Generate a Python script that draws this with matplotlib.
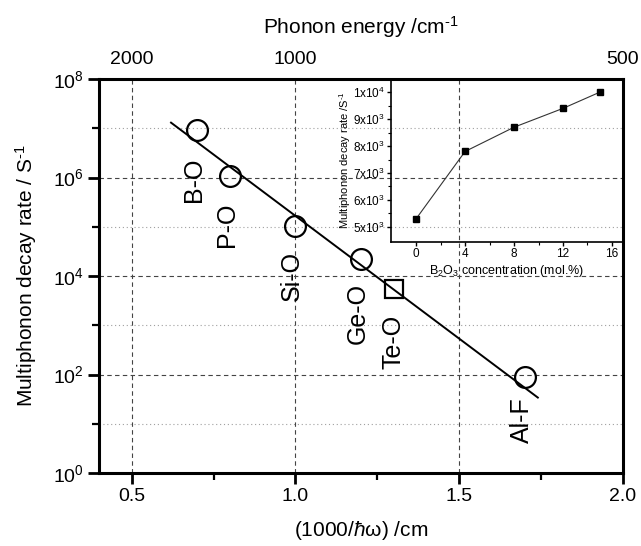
import numpy as np
import matplotlib
matplotlib.use("Agg")
import matplotlib.pyplot as plt
from matplotlib.ticker import NullFormatter, FixedLocator

plt.rcParams['font.family'] = ['Liberation Sans', 'DejaVu Sans']
plt.rcParams['mathtext.fontset'] = 'custom'
plt.rcParams['mathtext.rm'] = 'Liberation Sans'
plt.rcParams['mathtext.it'] = 'Liberation Sans:italic'
plt.rcParams['mathtext.bf'] = 'Liberation Sans:bold'

HY = "\u2010"  # hyphen for superscripts

# ---------------- data ----------------
bond_labels = ["B-O", "P-O", "Si-O", "Ge-O", "Te-O", "Al-F"]
inv_energy = [0.70, 0.80, 1.00, 1.20, 1.30, 1.70]          # 1000/hw (cm)
decay_rate = [9.2e6, 1.05e6, 1.05e5, 2.2e4, 5.4e3, 88]       # s^-1
marker_kind = ["o", "o", "o", "o", "s", "o"]

fit_x = [0.62, 1.74]
fit_y = [1.3e7, 34]

label_x = [0.69, 0.79, 0.99, 1.19, 1.30, 1.69]
label_logy = [5.96, 5.05, 4.00, 3.24, 2.66, 1.08]

phonon_ticks = [2000, 1000, 500]

b2o3_conc = [0, 4, 8, 12, 15]
inset_rate = [5300, 7800, 8700, 9400, 10000]

# ---------------- figure ----------------
fig = plt.figure(figsize=(6.41, 5.46), dpi=100)
ax = fig.add_axes([0.1544, 0.1337, 0.8175, 0.7216])

ax.set_xlim(0.4, 2.0)
ax.set_yscale('log')
ax.set_ylim(1, 1e8)

# grid
for yv in [1e2, 1e4, 1e6]:
    ax.axhline(yv, color='#444444', lw=0.8, ls=(0, (4, 3)), zorder=0)
for yv in [1e1, 1e3, 1e5, 1e7]:
    ax.axhline(yv, color='#a0a0a0', lw=0.8, ls=(0, (1, 2.5)), zorder=0)
for xv in [0.5, 1.0, 1.5]:
    ax.axvline(xv, color='#444444', lw=0.8, ls=(0, (4, 3)), zorder=0)

# fit line
ax.plot(fit_x, fit_y, color='black', lw=1.4, zorder=2)

# points
for xv, yv, mk in zip(inv_energy, decay_rate, marker_kind):
    ax.plot([xv], [yv], marker=mk, ms=15 if mk == 'o' else 12.5,
            mfc='none', mec='black', mew=1.6, ls='none', zorder=3)

for lab, xv, ly in zip(bond_labels, label_x, label_logy):
    ax.text(xv, 10 ** ly, lab, rotation=90, ha='center', va='center',
            fontsize=18)

# ticks
ax.set_xticks([0.5, 1.0, 1.5, 2.0])
ax.set_xticklabels(["0.5", "1.0", "1.5", "2.0"])
ax.xaxis.set_minor_locator(FixedLocator([0.75, 1.25, 1.75]))
ax.set_yticks([1, 1e2, 1e4, 1e6, 1e8])
ax.set_yticklabels([r"10$^{0}$", r"10$^{2}$", r"10$^{4}$", r"10$^{6}$", r"10$^{8}$"])
ax.yaxis.set_minor_locator(FixedLocator([1e1, 1e3, 1e5, 1e7]))
ax.yaxis.set_minor_formatter(NullFormatter())
ax.tick_params(which='major', direction='out', length=8, width=2, labelsize=14, pad=3)
ax.tick_params(which='minor', direction='out', length=5, width=1.6)
ax.tick_params(top=False, right=False, which='both')
for s in ax.spines.values():
    s.set_linewidth(2.2)

ax.set_xlabel(r"(1000/$\mathit{ħ}$ω) /cm", fontsize=15, labelpad=10)
ax.set_ylabel("Multiphonon decay rate / S$^{" + HY + "1}$", fontsize=15, labelpad=10)

# top axis
axt = ax.twiny()
axt.set_xlim(ax.get_xlim())
axt.set_xticks([1000.0 / e for e in phonon_ticks])
axt.set_xticklabels([str(e) for e in phonon_ticks])
axt.tick_params(axis='x', length=0, labelsize=14, pad=8)
for s in axt.spines.values():
    s.set_visible(False)
axt.set_xlabel("Phonon energy /cm$^{" + HY + "1}$", fontsize=15, labelpad=12)

# inset
ins = fig.add_axes([0.61, 0.5568, 0.3619, 0.2985])
ins.patch.set_alpha(0)
ins.plot(b2o3_conc, inset_rate, color='#333333', lw=0.8, marker='s', ms=4.5,
         mfc='black', mec='black')
ins.set_xlim(-2.05, 16.9)
ins.set_ylim(4440, 10490)
ins.set_xticks([0, 4, 8, 12, 16])
ins.xaxis.set_minor_locator(FixedLocator([2, 6, 10, 14]))
ins.set_yticks([5000, 6000, 7000, 8000, 9000, 10000])
ins.set_yticklabels([r"5x10$^{3}$", r"6x10$^{3}$", r"7x10$^{3}$", r"8x10$^{3}$",
                     r"9x10$^{3}$", r"1x10$^{4}$"])
ins.yaxis.set_minor_locator(FixedLocator([5500, 6500, 7500, 8500, 9500]))
ins.tick_params(which='major', direction='out', length=3, width=1, labelsize=8.5, pad=1.5)
ins.tick_params(which='minor', direction='out', length=2, width=0.8)
for s in ins.spines.values():
    s.set_linewidth(1.2)
ins.set_xlabel(r"B$_{2}$O$_{3}$ concentration (mol.%)", fontsize=9, labelpad=2)
ins.set_ylabel("Multiphonon decay rate /S$^{" + HY + "1}$", fontsize=8, labelpad=0)

fig.savefig("out.png", dpi=100)
